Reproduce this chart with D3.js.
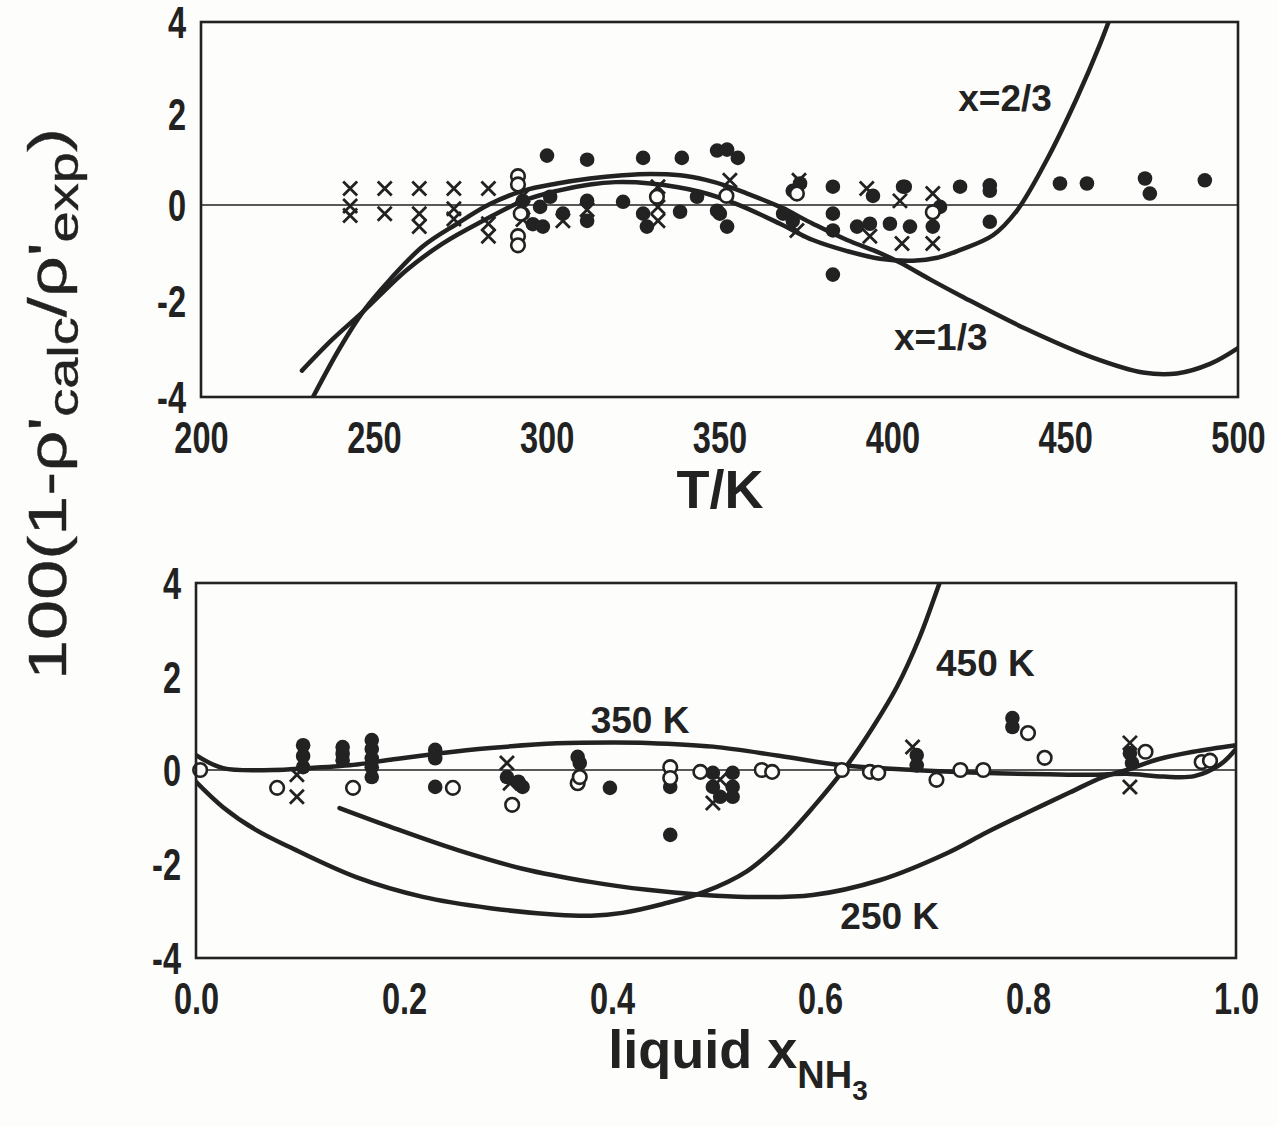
<!DOCTYPE html>
<html>
<head>
<meta charset="utf-8">
<script src="https://cdn.jsdelivr.net/npm/d3@7"></script>
<style>
  html, body { margin: 0; padding: 0; background: #fdfdfb; }
  svg { display: block; }
</style>
</head>
<body>
<svg id="chart" width="1277" height="1126"></svg>
<script>
// ---------- upper panel: deviation against temperature ----------
const tempTicks = [200, 250, 300, 350, 400, 450, 500];
const devTicks = [-4, -2, 0, 2, 4];

// model curves at constant liquid composition, [T/K, deviation %]
const curveX13 = [[232.4,-4.0],[240,-3.0],[246.9,-2.22],[254.7,-1.55],[264.2,-0.86],[274.1,-0.39],
  [283.6,0.02],[293.1,0.31],[303,0.47],[312.5,0.58],[322,0.65],[330,0.68],[338.6,0.65],[346,0.55],
  [352,0.42],[358,0.25],[367.5,-0.04],[377,-0.39],[386.9,-0.73],[396.4,-1.0],[402.2,-1.2],
  [410.9,-1.55],[420,-1.9],[438.9,-2.59],[458,-3.18],[472.5,-3.49],[482.3,-3.51],[491.9,-3.31],[500,-2.98]];
const curveX23 = [[229.2,-3.45],[238,-2.8],[246.9,-2.22],[259.6,-1.35],[270,-0.8],[281.6,-0.33],
  [293.1,0.09],[303,0.31],[312.5,0.45],[320,0.5],[330,0.47],[344.3,0.29],[355,0.02],[367.5,-0.39],
  [377,-0.73],[386.9,-0.96],[396.4,-1.12],[406,-1.16],[413,-1.1],[419.5,-0.94],[429.1,-0.63],
  [436,-0.12],[444.7,0.99],[453.4,2.34],[460,3.5],[465,4.5]];

// experimental points, [T/K, deviation %]
const tempFilled = [[300.1,1.08],[311.7,0.99],[327.9,1.03],[339.1,1.03],[349.3,1.19],[352.2,1.21],[355.3,1.03],
  [382.8,0.40],[403.6,0.40],[419.6,0.40],[428.2,0.43],[428.2,0.31],[448.5,0.47],[456.3,0.47],[473.1,0.58],
  [474.5,0.25],[490.4,0.54],[382.8,-1.45],[428.2,-0.35],
  [293.1,0.09],[293.1,-0.18],[296,-0.4],[298.1,-0.04],[301,0.18],[298.9,-0.45],[304.7,-0.18],[311.7,0.09],
  [311.7,-0.33],[322.1,0.07],[327.9,-0.18],[329,-0.45],[338.6,-0.14],[343.5,0.18],[349.3,-0.12],[352.2,-0.45],
  [350.1,-0.18],[368.4,-0.18],[371.2,0.31],[373.3,0.47],[371.2,-0.33],[382.8,-0.18],[382.8,-0.53],
  [389.8,-0.45],[393.5,-0.39],[394.4,0.20],[399.3,-0.39],[405.1,-0.45],[403.1,0.40],[413.8,-0.04],[411.7,-0.45]];
const tempOpen = [[291.7,0.63],[291.7,0.45],[291.7,-0.65],[291.7,-0.84],[292.5,-0.18],[331.9,0.18],
  [372.4,0.25],[411.7,-0.15],[352,0.2]];
const tempCross = [[243.15,0.36],[253.15,0.36],[263.15,0.36],[273.15,0.36],[283.15,0.36],
  [243.15,-0.02],[243.15,-0.22],[253.15,-0.18],[263.15,-0.18],[263.15,-0.45],[273.15,-0.08],[273.15,-0.29],
  [283.15,-0.39],[283.15,-0.65],[293.15,0.2],[293.15,-0.3],[304.7,-0.33],[311.7,-0.1],[332.2,0.40],
  [332.2,-0.04],[332.2,-0.33],[353,0.54],[373,0.54],[372.4,-0.53],[392.6,0.36],[393.5,-0.65],[402.2,0.09],
  [402.8,-0.80],[411.7,0.25],[411.7,-0.80]];

// ---------- lower panel: deviation against liquid ammonia mole fraction ----------
const compTicks = [0, 0.2, 0.4, 0.6, 0.8, 1.0];

// model isotherms, [x_NH3, deviation %]
const curve250 = [[0.138,-0.81],[0.187,-1.21],[0.251,-1.70],[0.314,-2.10],[0.379,-2.38],[0.434,-2.55],
  [0.488,-2.66],[0.530,-2.70],[0.593,-2.66],[0.658,-2.34],[0.722,-1.77],[0.76,-1.33],[0.799,-0.91],
  [0.84,-0.48],[0.872,-0.15],[0.895,0.0],[0.927,0.24],[0.959,0.39],[1.0,0.53]];
const curve350 = [[0,0.32],[0.026,0.04],[0.074,0],[0.107,0.04],[0.155,0.12],[0.187,0.22],[0.235,0.36],
  [0.283,0.47],[0.347,0.57],[0.40,0.59],[0.434,0.58],[0.497,0.5],[0.562,0.3],[0.622,0.1],[0.689,0.0],
  [0.754,-0.06],[0.82,-0.09],[0.863,-0.1],[0.895,-0.08],[0.93,-0.14],[0.96,-0.13],[0.985,0.12],[1.0,0.45]];
const curve450 = [[0,-0.25],[0.026,-0.79],[0.058,-1.28],[0.09,-1.64],[0.154,-2.28],[0.218,-2.70],
  [0.283,-2.94],[0.347,-3.08],[0.38,-3.1],[0.41,-3.04],[0.449,-2.85],[0.488,-2.6],[0.530,-2.15],
  [0.562,-1.55],[0.593,-0.8],[0.626,0.1],[0.651,0.92],[0.674,1.78],[0.696,2.85],[0.715,4.0],[0.725,4.6]];

// experimental points, [x_NH3, deviation %]
const compFilled = [[0.103,0.53],[0.103,0.3],[0.103,0.06],[0.141,0.49],[0.141,0.35],[0.141,0.21],
  [0.169,0.64],[0.169,0.45],[0.169,0.25],[0.169,0.06],[0.169,-0.15],[0.230,0.43],[0.230,0.25],[0.230,-0.36],
  [0.299,-0.15],[0.314,-0.36],[0.31,-0.25],[0.367,0.28],[0.369,0.15],[0.398,-0.38],[0.456,-0.36],
  [0.456,-1.38],[0.497,-0.06],[0.497,-0.36],[0.504,-0.57],[0.516,-0.06],[0.516,-0.36],[0.516,-0.57],
  [0.693,0.32],[0.693,0.1],[0.785,1.11],[0.785,0.92],[0.898,0.36],[0.9,0.15]];
const compOpen = [[0.004,0.0],[0.078,-0.38],[0.151,-0.38],[0.247,-0.38],[0.304,-0.74],[0.367,-0.28],
  [0.369,-0.15],[0.456,0.06],[0.456,-0.17],[0.485,-0.04],[0.544,0.0],[0.554,-0.04],[0.621,0.0],
  [0.648,-0.04],[0.656,-0.06],[0.712,-0.21],[0.735,0.0],[0.757,0.0],[0.8,0.79],[0.816,0.26],
  [0.913,0.39],[0.967,0.17],[0.975,0.2]];
const compCross = [[0.097,-0.57],[0.097,-0.1],[0.299,0.15],[0.302,-0.28],[0.497,-0.70],[0.504,-0.2],
  [0.689,0.49],[0.898,0.58],[0.898,-0.36]];

// curve annotations, [x, y, text]
const tempLabels = [[432.6, 2.35, "x=2/3"], [414, -2.75, "x=1/3"]];
const compLabels = [[0.427, 1.07, "350 K"], [0.759, 2.29, "450 K"], [0.667, -3.09, "250 K"]];

// ---------- drawing ----------
const ink = "#222";
const paper = "#fdfdfb";
const font = "'Liberation Sans', Arial, sans-serif";
const svg = d3.select("#chart");

const xTemp = d3.scaleLinear().domain([200, 500]).range([201, 1238]);
const yTemp = d3.scaleLinear().domain([-4, 0, 4]).range([397, 205, 22]);
const xComp = d3.scaleLinear().domain([0, 1]).range([196, 1236]);
const yComp = d3.scaleLinear().domain([-4, 0, 4]).range([958, 770, 583]);

const tickSize = 44, tickSqueeze = 0.74;

function panel(id, x, y, xTicks, xFmt, curves, filled, open, cross, labels) {
  const [x0, x1] = x.range();
  const yb = y(-4), yt = y(4);
  const g = svg.append("g").attr("class", id);

  g.append("clipPath").attr("id", id + "-clip")
    .append("rect").attr("x", x0).attr("y", yt).attr("width", x1 - x0).attr("height", yb - yt);

  // zero reference line
  g.append("line").attr("x1", x0).attr("x2", x1).attr("y1", y(0)).attr("y2", y(0))
    .attr("stroke", ink).attr("stroke-width", 1.6);

  // model curves
  const line = d3.line().x(d => x(d[0])).y(d => y(d[1])).curve(d3.curveCatmullRom.alpha(0.5));
  g.append("g").attr("clip-path", `url(#${id}-clip)`)
    .selectAll("path").data(curves).join("path")
    .attr("d", line).attr("fill", "none").attr("stroke", ink)
    .attr("stroke-width", 4.5).attr("stroke-linecap", "round");

  // experimental points
  g.append("g").selectAll("path").data(cross).join("path")
    .attr("transform", d => `translate(${x(d[0])},${y(d[1])})`)
    .attr("d", "M-7,-7L7,7M-7,7L7,-7").attr("stroke", ink).attr("stroke-width", 2.8).attr("fill", "none");
  g.append("g").selectAll("circle").data(filled).join("circle")
    .attr("cx", d => x(d[0])).attr("cy", d => y(d[1])).attr("r", 7.3).attr("fill", ink);
  g.append("g").selectAll("circle").data(open).join("circle")
    .attr("cx", d => x(d[0])).attr("cy", d => y(d[1])).attr("r", 6.8)
    .attr("fill", paper).attr("stroke", ink).attr("stroke-width", 2.6);

  // frame
  g.append("rect").attr("x", x0).attr("y", yt).attr("width", x1 - x0).attr("height", yb - yt)
    .attr("fill", "none").attr("stroke", ink).attr("stroke-width", 2.6);

  // axes (condensed bold tick labels, no tick marks)
  const gx = g.append("g").attr("transform", `translate(0,${yb})`)
    .call(d3.axisBottom(x).tickValues(xTicks).tickSize(0).tickFormat(xFmt));
  gx.select(".domain").remove();
  gx.selectAll("text").attr("y", 56).attr("dy", null)
    .attr("font-size", tickSize).attr("font-weight", "bold").attr("font-family", font).attr("fill", ink)
    .attr("transform", `scale(${tickSqueeze},1)`);

  const gy = g.append("g").attr("transform", `translate(${x0},0)`)
    .call(d3.axisLeft(y).tickValues(devTicks).tickSize(0).tickFormat(d => String(d)));
  gy.select(".domain").remove();
  gy.selectAll("text").attr("x", -15 / tickSqueeze).attr("dy", "0.36em")
    .attr("font-size", tickSize).attr("font-weight", "bold").attr("font-family", font).attr("fill", ink)
    .attr("transform", `scale(${tickSqueeze},1)`);

  // curve annotations
  g.append("g").selectAll("text").data(labels).join("text")
    .attr("x", d => x(d[0])).attr("y", d => y(d[1])).attr("dy", "0.36em")
    .attr("text-anchor", "middle").attr("font-size", 37).attr("font-weight", "bold")
    .attr("font-family", font).attr("fill", ink).text(d => d[2]);
}

panel("upper", xTemp, yTemp, tempTicks, d => String(d),
  [curveX13, curveX23], tempFilled, tempOpen, tempCross, tempLabels);
panel("lower", xComp, yComp, compTicks, d3.format(".1f"),
  [curve250, curve350, curve450], compFilled, compOpen, compCross, compLabels);

// axis titles
svg.append("text").attr("x", 720).attr("y", 508).attr("text-anchor", "middle")
  .attr("font-size", 54).attr("font-weight", "bold").attr("font-family", font).attr("fill", ink)
  .text("T/K");

const xt = svg.append("text").attr("x", 738).attr("y", 1068).attr("text-anchor", "middle")
  .attr("font-size", 54).attr("font-weight", "bold").attr("font-family", font).attr("fill", ink);
xt.append("tspan").text("liquid x");
xt.append("tspan").attr("font-size", 38).attr("dy", 20).text("NH");
xt.append("tspan").attr("font-size", 28).attr("dy", 12).text("3");

const yt = svg.append("text").attr("transform", "translate(66,404) rotate(-90)")
  .attr("text-anchor", "middle").attr("font-size", 54).attr("font-family", font).attr("fill", ink)
  .attr("stroke", ink).attr("stroke-width", 0.4)
  .attr("textLength", 552).attr("lengthAdjust", "spacingAndGlyphs");
yt.append("tspan").text("100(1-\u03c1'");
yt.append("tspan").attr("font-size", 42).attr("dy", 12).text("calc");
yt.append("tspan").attr("dy", -12).text("/\u03c1'");
yt.append("tspan").attr("font-size", 42).attr("dy", 12).text("exp");
yt.append("tspan").attr("dy", -12).text(")");
</script>
</body>
</html>
